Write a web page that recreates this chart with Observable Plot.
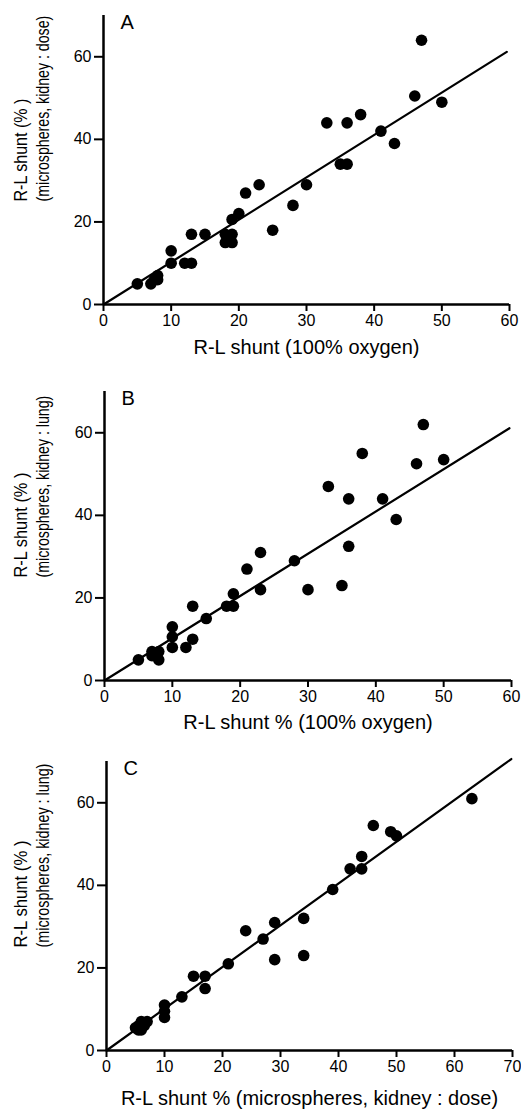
<!DOCTYPE html>
<html>
<head>
<meta charset="utf-8">
<script src="https://cdn.jsdelivr.net/npm/d3@7"></script>
<script src="https://cdn.jsdelivr.net/npm/@observablehq/plot@0.6"></script>
<style>
  body { margin: 0; background: #fff; }
  #chart { width: 521px; }
  #chart svg { display: block; }
</style>
</head>
<body>
<div id="chart"></div>
<script>
// Panel A: R-L shunt (100% oxygen) vs microspheres kidney:dose
const xA = [5,7,7.5,8,8,10,10,12,13,13,15,18,18,19,19,19,20,21,23,25,28,30,33,35,36,36,38,41,43,46,47,50];
const yA = [5,5,6,6,7,13,10,10,10,17,17,17,15,15,17,20.6,22,27,29,18,24,29,44,34,34,44,46,42,39,50.5,64,49];
const fitA = [[0, 0], [59.6, 61.2]];

// Panel B: R-L shunt % (100% oxygen) vs microspheres kidney:lung
const xB = [5,7,7,7.5,8,8,10,10,10,12,13,13,15,18,19,19,21,23,23,28,30,33,35,36,36,38,41,43,46,47,50];
const yB = [5,6,7,6,7,5,13,10.6,8,8,10,18,15,18,18,21,27,31,22,29,22,47,23,32.5,44,55,44,39,52.5,62,53.5];
const fitB = [[0, 0], [59.7, 61.1]];

// Panel C: kidney:dose vs kidney:lung
const xC = [5,5.5,5.5,6,6,6.5,7,10,10,10,13,15,17,17,21,24,27,29,29,34,34,39,42,44,44,46,49,50,63];
const yC = [5.5,5,6,5,7,6,7,8,9.5,11,13,18,18,15,21,29,27,31,22,32,23,39,44,44,47,54.5,53,52,61];
const fitC = [[0, 0], [69.8, 70.6]];

const yTicks = [0, 20, 40, 60];
const xTicks60 = [0, 10, 20, 30, 40, 50, 60];
const xTicks70 = [0, 10, 20, 30, 40, 50, 60, 70];

const panels = [
  {letter: "A", xs: xA, ys: yA, fit: fitA, xmax: 60, xTicks: xTicks60,
   xTitle: "R-L shunt (100% oxygen)",
   yTitle: ["R-L shunt (% )", "(microspheres, kidney : dose)"], yLen: [103, 186],
   height: 370, mt: 15, mb: 66, ml: 103, mr: 12, titleDy: 43},
  {letter: "B", xs: xB, ys: yB, fit: fitB, xmax: 60, xTicks: xTicks60,
   xTitle: "R-L shunt % (100% oxygen)",
   yTitle: ["R-L shunt (% )", "(microspheres, kidney : lung)"], yLen: [105, 182],
   height: 370, mt: 21, mb: 60, ml: 104, mr: 10, titleDy: 42},
  {letter: "C", xs: xC, ys: yC, fit: fitC, xmax: 70, xTicks: xTicks70,
   xTitle: "R-L shunt % (microspheres, kidney : dose)",
   yTitle: ["R-L shunt (% )", "(microspheres, kidney : lung)"], yLen: [107, 184],
   height: 371, mt: 21, mb: 61, ml: 106, mr: 9, titleDy: 48}
];

const font = "'Liberation Sans', Arial, Helvetica, sans-serif";
const root = document.getElementById("chart");

for (const p of panels) {
  const pts = p.xs.map((x, i) => ({x, y: p.ys[i]}));
  const chart = Plot.plot({
    width: 521,
    height: p.height,
    marginTop: p.mt,
    marginBottom: p.mb,
    marginLeft: p.ml,
    marginRight: p.mr,
    style: {fontFamily: font, color: "#000", background: "#fff", overflow: "visible"},
    x: {domain: [0, p.xmax]},
    y: {domain: [0, 70]},
    marks: [
      Plot.axisX({ticks: p.xTicks, tickSize: 7, tickPadding: 3, fontSize: 16, strokeWidth: 2, label: null}),
      Plot.axisY({ticks: yTicks, tickSize: 9, tickPadding: 3, fontSize: 16, strokeWidth: 2, label: null}),
      Plot.ruleY([0], {strokeWidth: 2.5, stroke: "#000"}),
      Plot.ruleX([0], {strokeWidth: 2.5, stroke: "#000"}),
      Plot.line(p.fit, {x: d => d[0], y: d => d[1], stroke: "#000", strokeWidth: 2.2}),
      Plot.dot(pts, {x: "x", y: "y", r: 5.8, fill: "#000", stroke: "none"}),
      Plot.text([p.letter], {frameAnchor: "top-left", dx: 17, dy: -1, textAnchor: "start", lineAnchor: "top", fontSize: 20, fill: "#000"}),
      Plot.text([p.xTitle], {frameAnchor: "bottom", dy: p.titleDy, lineAnchor: "middle", fontSize: 20, fill: "#000"}),
      Plot.text([p.yTitle[0]], {frameAnchor: "bottom-left", dx: 21 - p.ml, dy: -103, rotate: -90, textAnchor: "start", lineAnchor: "middle", fontSize: 17.5, fill: "#000"}),
      Plot.text([p.yTitle[1]], {frameAnchor: "bottom-left", dx: 43 - p.ml, dy: -103, rotate: -90, textAnchor: "start", lineAnchor: "middle", fontSize: 17.5, fill: "#000"})
    ]
  });
  root.appendChild(chart);
  // condense the rotated y-axis titles to the reference's lengths (scale along the text direction)
  chart.querySelectorAll("text").forEach(t => {
    const i = p.yTitle.indexOf(t.textContent);
    if (i >= 0) {
      const natural = t.getComputedTextLength();
      const k = p.yLen[i] / natural;
      const tr = t.getAttribute("transform") || "";
      t.setAttribute("transform", tr + ` scale(${k.toFixed(4)},1)`);
    }
  });
}
</script>
</body>
</html>
